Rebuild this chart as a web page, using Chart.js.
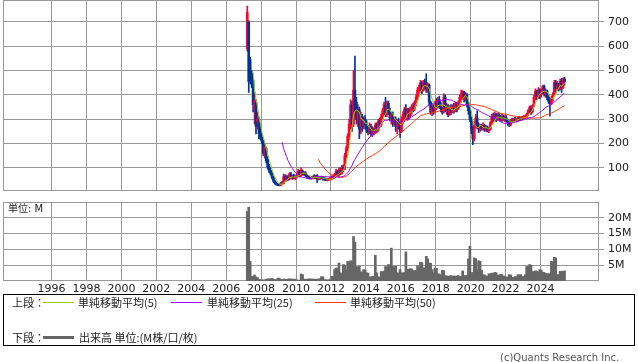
<!DOCTYPE html>
<html>
<head>
<meta charset="utf-8">
<script src="https://cdn.jsdelivr.net/npm/chart.js@4.4.1/dist/chart.umd.min.js"></script>
<style>
  body { margin: 0; background: #fff; width: 638px; height: 362px; overflow: hidden; position: relative; font-family: "DejaVu Sans", sans-serif; }
  canvas { position: absolute; left: 0; }
  #price { top: 0; }
  #volume { top: 195px; }
  .t { position: absolute; font: 11px "Noto Sans CJK JP", sans-serif; color: #222; line-height: 14px; white-space: nowrap; }
  .ln { position: absolute; height: 1px; width: 31px; }
  #legend { position: absolute; left: 3px; top: 294px; width: 632px; height: 52px; border: 1px solid #000; box-sizing: border-box; }
</style>
</head>
<body>
<canvas id="price" width="638" height="192"></canvas>
<canvas id="volume" width="638" height="100"></canvas>
<div class="t" style="left:8px; top:202px; font-family:'DejaVu Sans','Noto Sans CJK JP'; font-size:10px;">単位: M</div>

<div id="legend"></div>
<div class="t" style="left:12px; top:295px;">上段：</div>
<div class="ln" style="left:43px; top:302px; background:#99cc00;"></div>
<div class="t" style="left:78px; top:295px;">単純移動平均(5)</div>
<div class="ln" style="left:171px; top:302px; background:#9900ff;"></div>
<div class="t" style="left:207px; top:295px;">単純移動平均(25)</div>
<div class="ln" style="left:315px; top:302px; background:#ff3300;"></div>
<div class="t" style="left:350px; top:295px;">単純移動平均(50)</div>
<div class="t" style="left:12px; top:330px;">下段：</div>
<div class="ln" style="left:43px; top:336px; height:3px; background:#666;"></div>
<div class="t" style="left:79px; top:330px;">出来高 単位:(M株/口/枚)</div>
<div class="t" style="left:500px; top:351px; color:#555; font-family:'DejaVu Sans'; font-size:10px;">(c)Quants Research Inc.</div>

<script>
// monthly data, first month = 2007-03
const startYear = 2007;
const startMonth = 3;

const opens = [
  590, 700, 545, 490, 460, 345, 370, 290, 300, 260,
  225, 210, 150, 180, 135, 105, 90, 78, 60, 45, 36, 32,
  30, 28, 38, 36, 65, 50, 62, 55, 75, 60, 68, 58,
  62, 70, 85, 68, 88, 75, 80, 70, 62, 60, 58, 60,
  68, 58, 68, 55, 58, 60, 57, 55, 52, 50, 52, 55,
  57, 62, 60, 70, 85, 70, 90, 78, 100, 95, 150, 180,
  230, 270, 360, 280, 420, 370, 300, 340, 270, 310, 275, 300,
  280, 260, 250, 270, 240, 255, 245, 275, 255, 290, 275, 310,
  335, 360, 320, 365, 330, 305, 320, 285, 300, 270, 290, 280,
  250, 300, 315, 340, 310, 335, 315, 340, 350, 345, 365, 390,
  415, 430, 450, 420, 450, 445, 425, 440, 370, 330, 350, 335,
  365, 350, 380, 355, 345, 330, 390, 345, 355, 320, 345, 330,
  350, 340, 360, 345, 365, 390, 400, 410, 385, 400, 360, 335,
  300, 260, 220, 275, 305, 270, 260, 270, 262, 275, 258, 268,
  252, 258, 285, 310, 300, 320, 300, 315, 305, 295, 310, 300,
  305, 295, 285, 278, 295, 290, 300, 295, 300, 305, 300, 306,
  304, 310, 312, 320, 335, 348, 330, 355, 390, 415, 395, 420,
  400, 415, 435, 405, 415, 390, 375, 365, 385, 400, 450, 425,
  440, 425, 455, 430, 465
];
const highs = [
  765, 705, 555, 500, 470, 410, 380, 330, 310, 280,
  240, 215, 200, 185, 145, 115, 100, 85, 65, 50, 42, 36,
  35, 40, 45, 75, 72, 70, 68, 80, 82, 70, 75, 68,
  78, 95, 90, 100, 92, 85, 85, 75, 68, 66, 64, 66,
  72, 70, 72, 62, 65, 66, 62, 60, 58, 57, 58, 60,
  68, 70, 78, 95, 90, 100, 100, 110, 112, 160, 190, 240,
  300, 380, 375, 500, 560, 390, 360, 350, 330, 320, 310, 315,
  295, 275, 285, 280, 270, 265, 285, 285, 300, 305, 320, 345,
  370, 390, 375, 375, 345, 330, 330, 310, 310, 300, 305, 290,
  310, 330, 350, 360, 345, 345, 350, 360, 365, 375, 400, 430,
  440, 460, 455, 460, 465, 487, 450, 445, 375, 360, 365, 375,
  385, 390, 395, 370, 355, 405, 400, 365, 360, 355, 360, 360,
  365, 370, 370, 375, 400, 420, 418, 415, 410, 405, 370, 345,
  310, 270, 290, 320, 335, 285, 280, 280, 285, 280, 275, 272,
  265, 290, 320, 325, 330, 325, 325, 325, 315, 320, 318, 315,
  315, 300, 295, 300, 305, 305, 308, 305, 310, 312, 310, 312,
  315, 318, 325, 340, 355, 355, 360, 400, 425, 420, 430, 425,
  425, 440, 440, 425, 420, 400, 385, 395, 410, 460, 460, 455,
  448, 465, 468, 470, 472
];
const lows = [
  580, 410, 445, 430, 330, 280, 240, 260, 220, 215,
  200, 150, 140, 120, 95, 80, 70, 55, 40, 33, 28, 27,
  26, 26, 33, 34, 45, 45, 48, 50, 55, 52, 55, 52,
  58, 65, 62, 65, 70, 68, 65, 58, 55, 54, 53, 55,
  55, 55, 40, 50, 52, 54, 50, 48, 47, 46, 48, 50,
  52, 55, 57, 65, 65, 66, 72, 74, 85, 92, 140, 170,
  215, 260, 250, 270, 300, 280, 270, 220, 240, 250, 260, 260,
  245, 235, 240, 230, 228, 235, 240, 245, 250, 265, 270, 300,
  320, 310, 310, 320, 295, 280, 270, 275, 250, 240, 260, 225,
  245, 280, 290, 300, 295, 300, 305, 320, 330, 335, 355, 380,
  395, 410, 405, 415, 420, 410, 410, 360, 320, 315, 320, 325,
  340, 345, 345, 330, 320, 325, 330, 320, 310, 315, 320, 325,
  325, 330, 330, 340, 355, 370, 380, 370, 375, 350, 320, 290,
  240, 195, 210, 265, 260, 245, 250, 255, 255, 250, 250, 248,
  245, 255, 280, 290, 295, 290, 295, 300, 290, 290, 295, 290,
  290, 275, 270, 272, 285, 285, 290, 288, 292, 295, 295, 298,
  300, 302, 305, 315, 325, 320, 325, 350, 380, 380, 385, 385,
  390, 405, 395, 390, 380, 365, 313, 360, 375, 395, 410, 420,
  415, 420, 410, 425, 440
];
const closes = [
  740, 455, 455, 460, 360, 375, 270, 300, 240, 225,
  210, 160, 185, 130, 105, 90, 78, 60, 45, 36, 32, 30,
  28, 38, 36, 65, 50, 62, 52, 75, 60, 65, 58, 62,
  72, 85, 68, 90, 75, 80, 70, 62, 60, 58, 60, 62,
  58, 65, 55, 58, 60, 57, 55, 52, 50, 52, 55, 57,
  62, 60, 72, 85, 70, 92, 78, 100, 95, 150, 180, 230,
  280, 360, 280, 420, 330, 300, 340, 260, 310, 270, 300, 275,
  260, 250, 270, 240, 255, 245, 275, 255, 290, 275, 310, 335,
  360, 320, 365, 330, 305, 320, 285, 300, 270, 290, 280, 250,
  300, 320, 340, 310, 335, 315, 340, 350, 345, 370, 390, 420,
  430, 450, 420, 450, 440, 425, 445, 370, 330, 350, 335, 365,
  350, 380, 355, 345, 330, 390, 345, 355, 320, 345, 330, 350,
  340, 360, 345, 365, 390, 405, 410, 385, 400, 360, 335, 300,
  260, 220, 275, 305, 270, 260, 270, 262, 275, 258, 268, 252,
  258, 285, 310, 300, 320, 300, 315, 305, 295, 310, 300, 305,
  295, 285, 278, 295, 290, 300, 295, 300, 305, 300, 306, 304,
  310, 312, 320, 335, 348, 330, 355, 390, 415, 395, 420, 400,
  415, 435, 405, 415, 390, 375, 365, 385, 400, 450, 425, 440,
  425, 455, 430, 465, 455
];
// 出来高 (M)
const volumes = [
  22.0, 23.3, 6.2, 1.5, 1.4, 1.9, 1.3, 1.1, 0.5, 0.4,
  0.4, 0.3, 0.4, 0.5, 0.7, 0.6, 0.7, 0.8, 0.6, 0.4, 0.4, 0.9,
  0.9, 0.5, 0.4, 0.6, 0.6, 0.5, 0.6, 0.7, 0.6, 0.6, 0.5, 0.6,
  0.3, 0.3, 0.2, 2.2, 2.0, 0.6, 0.5, 0.6, 0.6, 0.7, 0.6, 0.6,
  0.6, 0.5, 0.6, 0.6, 0.7, 1.4, 1.3, 0.4, 0.4, 0.3, 0.4, 0.4,
  1.5, 1.4, 3.6, 4.1, 4.0, 5.7, 2.6, 2.3, 5.2, 5.0, 3.6, 6.2,
  6.0, 6.4, 6.3, 14.1, 12.3, 4.6, 4.4, 4.7, 2.9, 2.8, 3.6, 3.5,
  2.6, 2.5, 1.3, 1.2, 1.5, 1.4, 8.1, 2.6, 1.3, 1.2, 3.0, 2.9,
  3.1, 4.6, 4.5, 5.2, 5.0, 10.4, 4.6, 4.4, 4.7, 2.6, 2.5, 3.6,
  2.6, 2.5, 2.7, 9.2, 3.8, 3.7, 3.9, 3.8, 3.3, 3.2, 3.4, 4.8,
  4.2, 5.9, 5.8, 4.2, 4.1, 7.8, 7.0, 5.7, 5.6, 3.6, 2.6, 4.1,
  4.0, 2.3, 2.2, 1.9, 3.4, 3.3, 1.7, 1.6, 1.5, 1.6, 1.7, 1.5,
  1.6, 1.5, 1.6, 1.7, 1.4, 1.3, 3.2, 1.7, 1.6, 1.8, 7.0, 11.0,
  2.6, 2.7, 7.3, 7.1, 3.6, 6.4, 6.2, 3.4, 2.0, 1.9, 1.6, 1.5,
  2.3, 2.2, 2.5, 2.4, 2.7, 2.6, 1.9, 1.8, 2.1, 2.0, 1.6, 1.5,
  1.3, 1.2, 2.0, 1.9, 1.2, 1.1, 1.4, 1.3, 2.0, 1.9, 2.0, 1.4,
  1.4, 2.0, 4.6, 4.5, 5.2, 5.0, 3.0, 2.9, 3.2, 3.1, 2.8, 3.6,
  3.5, 2.8, 2.7, 2.4, 2.3, 2.3, 2.2, 6.2, 6.0, 7.5, 7.3, 2.0,
  2.0, 3.1, 3.0, 3.1, 3.2
];

const yearTicks = [1996, 1998, 2000, 2002, 2004, 2006, 2008, 2010, 2012, 2014, 2016, 2018, 2020, 2022, 2024];
const priceTicks = [100, 200, 300, 400, 500, 600, 700];
const volumeTicks = [5, 10, 15, 20];

const UP = "#ff0033";
const DOWN = "#003399";
const GRID = "#999999";

Chart.defaults.font.family = "DejaVu Sans";
Chart.defaults.font.size = 11;
Chart.defaults.color = "#222";

function monthX(i) {
  return startYear + (startMonth - 1 + i) / 12 + 1 / 24;
}

function sma(values, n) {
  const out = [];
  for (let i = n - 1; i < values.length; i++) {
    let sum = 0;
    for (let j = i - n + 1; j <= i; j++) sum += values[j];
    out.push({ x: monthX(i), y: sum / n });
  }
  return out;
}

const candleColors = closes.map((c, i) => (c >= opens[i] ? UP : DOWN));
const wicks = closes.map((c, i) => ({ x: monthX(i), y: [lows[i], highs[i]] }));
const bodies = closes.map((c, i) => ({ x: monthX(i), y: [opens[i], c] }));
const volumeData = volumes.map((v, i) => ({ x: monthX(i), y: v }));

// plot frame
const frame = {
  id: "frame",
  beforeDatasetsDraw(chart) {
    const { ctx, chartArea: a } = chart;
    ctx.save();
    ctx.strokeStyle = GRID;
    ctx.lineWidth = 1;
    ctx.strokeRect(a.left + 0.5, a.top + 0.5, a.right - a.left - 1, a.bottom - a.top - 1);
    ctx.restore();
  },
};

function xScale(showLabels) {
  return {
    type: "linear",
    min: 1993.22,
    max: 2027.35,
    offset: false,
    afterBuildTicks: (s) => { s.ticks = yearTicks.map((v) => ({ value: v })); },
    ticks: { display: showLabels, autoSkip: false, maxRotation: 0, padding: 2, callback: (v) => String(v) },
    grid: { color: GRID, drawTicks: false, offset: false },
    border: { display: false },
    afterFit: (s) => {
      s.height = showLabels ? 14 : 0;
      s.paddingLeft = 0;
      s.paddingRight = 0;
    },
  };
}

function yScale(min, max, ticks, fmt) {
  return {
    position: "right",
    min,
    max,
    afterBuildTicks: (s) => { s.ticks = ticks.map((v) => ({ value: v })); },
    ticks: { padding: 4, callback: fmt },
    grid: { color: GRID, tickLength: 5 },
    border: { display: false },
    afterFit: (s) => {
      s.width = 39;
      s.paddingTop = 0;
      s.paddingBottom = 0;
    },
  };
}

new Chart(document.getElementById("price"), {
  type: "bar",
  data: {
    datasets: [
      { type: "line", data: sma(closes, 5), borderColor: "#99cc00", borderWidth: 1, pointRadius: 0, order: 0 },
      { type: "line", data: sma(closes, 25), borderColor: "#9900ff", borderWidth: 1, pointRadius: 0, order: 0 },
      { type: "line", data: sma(closes, 50), borderColor: "#ff3300", borderWidth: 1, pointRadius: 0, order: 0 },
      { data: bodies, backgroundColor: candleColors, barThickness: 2, minBarLength: 1, grouped: false, order: 1 },
      { data: wicks, backgroundColor: candleColors, barThickness: 1, grouped: false, order: 2 },
    ],
  },
  options: {
    responsive: false,
    animation: false,
    layout: { padding: { left: 3, top: 0, right: 0, bottom: 1 } },
    plugins: { legend: { display: false }, tooltip: { enabled: false } },
    scales: {
      x: xScale(false),
      y: yScale(5, 790, priceTicks, (v) => String(v)),
    },
  },
  plugins: [frame],
});

new Chart(document.getElementById("volume"), {
  type: "bar",
  data: {
    datasets: [
      { data: volumeData, backgroundColor: "#666666", barThickness: 2, grouped: false },
    ],
  },
  options: {
    responsive: false,
    animation: false,
    layout: { padding: { left: 3, top: 7, right: 0, bottom: 0 } },
    plugins: { legend: { display: false }, tooltip: { enabled: false } },
    scales: {
      x: xScale(true),
      y: yScale(0, 25, volumeTicks, (v) => v + "M"),
    },
  },
  plugins: [frame],
});
</script>
</body>
</html>
